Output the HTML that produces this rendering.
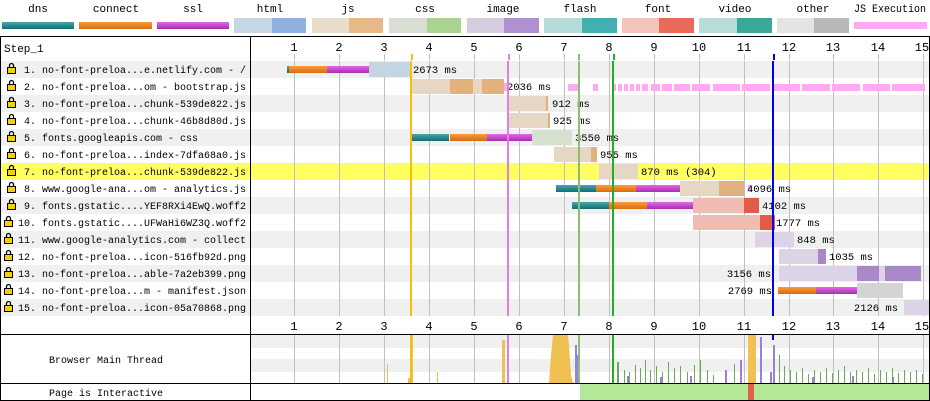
<!DOCTYPE html>
<html><head><meta charset="utf-8"><style>
body{margin:0;background:#fff}
svg{display:block;font-family:"Liberation Mono",monospace;font-size:10px}
</style></head><body>
<svg width="930" height="401" xmlns="http://www.w3.org/2000/svg">
<defs>
<linearGradient id="gdns" x1="0" y1="0" x2="0" y2="1"><stop offset="0" stop-color="#4aa5ad"/><stop offset="1" stop-color="#136c74"/></linearGradient>
<linearGradient id="gcon" x1="0" y1="0" x2="0" y2="1"><stop offset="0" stop-color="#fb9c3c"/><stop offset="1" stop-color="#d86b0f"/></linearGradient>
<linearGradient id="gssl" x1="0" y1="0" x2="0" y2="1"><stop offset="0" stop-color="#e06ae6"/><stop offset="1" stop-color="#a52fae"/></linearGradient>
</defs>
<!-- legend -->
<g text-anchor="middle" font-size="11">
<text x="38" y="12">dns</text><text x="116" y="12">connect</text><text x="193" y="12">ssl</text>
<text x="270" y="12">html</text><text x="348" y="12">js</text><text x="425" y="12">css</text>
<text x="503" y="12">image</text><text x="580" y="12">flash</text><text x="658" y="12">font</text>
<text x="735" y="12">video</text><text x="813" y="12">other</text><text x="890" y="12" textLength="72" lengthAdjust="spacingAndGlyphs">JS Execution</text>
</g>
<rect x="2" y="22" width="72" height="7" fill="url(#gdns)"/>
<rect x="79" y="22" width="73" height="7" fill="url(#gcon)"/>
<rect x="157" y="22" width="72" height="7" fill="url(#gssl)"/>
<rect x="234" y="18" width="38" height="15" fill="#c6d7e3"/><rect x="272" y="18" width="34" height="15" fill="#8fb0e0"/>
<rect x="312" y="18" width="37" height="15" fill="#eadccb"/><rect x="349" y="18" width="34" height="15" fill="#e8b888"/>
<rect x="389" y="18" width="38" height="15" fill="#d8dfd2"/><rect x="427" y="18" width="34" height="15" fill="#a8d490"/>
<rect x="467" y="18" width="37" height="15" fill="#d7cde0"/><rect x="504" y="18" width="35" height="15" fill="#b090d0"/>
<rect x="544" y="18" width="38" height="15" fill="#b6dcd9"/><rect x="582" y="18" width="35" height="15" fill="#40b0b0"/>
<rect x="622" y="18" width="37" height="15" fill="#f4c4bc"/><rect x="659" y="18" width="35" height="15" fill="#ea6a58"/>
<rect x="699" y="18" width="38" height="15" fill="#b8dcd8"/><rect x="737" y="18" width="35" height="15" fill="#3aa898"/>
<rect x="777" y="18" width="37" height="15" fill="#e4e4e4"/><rect x="814" y="18" width="35" height="15" fill="#b8b8b8"/>
<rect x="854" y="22" width="73" height="7" fill="#ffaaf5"/>

<!-- row backgrounds -->
<g fill="#f0f0f0">
<rect x="0" y="61" width="930" height="17"/><rect x="0" y="95" width="930" height="17"/>
<rect x="0" y="129" width="930" height="17"/><rect x="0" y="163" width="930" height="17"/>
<rect x="0" y="197" width="930" height="17"/><rect x="0" y="231" width="930" height="17"/>
<rect x="0" y="265" width="930" height="17"/><rect x="0" y="299" width="930" height="17"/>
<rect x="251" y="335" width="678" height="13"/><rect x="251" y="359" width="678" height="13"/>
</g>
<rect x="0" y="163" width="930" height="17" fill="#ffff60"/>

<!-- grid -->
<g stroke="#c0c0c0" stroke-width="1">
<line x1="294.5" y1="61" x2="294.5" y2="316"/><line x1="339.5" y1="61" x2="339.5" y2="316"/>
<line x1="384.5" y1="61" x2="384.5" y2="316"/><line x1="429.5" y1="61" x2="429.5" y2="316"/>
<line x1="474.5" y1="61" x2="474.5" y2="316"/><line x1="519.5" y1="61" x2="519.5" y2="316"/>
<line x1="564.5" y1="61" x2="564.5" y2="316"/><line x1="609.5" y1="61" x2="609.5" y2="316"/>
<line x1="654.5" y1="61" x2="654.5" y2="316"/><line x1="699.5" y1="61" x2="699.5" y2="316"/>
<line x1="744.5" y1="61" x2="744.5" y2="316"/><line x1="789.5" y1="61" x2="789.5" y2="316"/>
<line x1="833.5" y1="61" x2="833.5" y2="316"/><line x1="878.5" y1="61" x2="878.5" y2="316"/>
<line x1="923.5" y1="61" x2="923.5" y2="316"/>
<line x1="294.5" y1="335" x2="294.5" y2="383"/><line x1="339.5" y1="335" x2="339.5" y2="383"/><line x1="384.5" y1="335" x2="384.5" y2="383"/><line x1="429.5" y1="335" x2="429.5" y2="383"/><line x1="474.5" y1="335" x2="474.5" y2="383"/><line x1="519.5" y1="335" x2="519.5" y2="383"/><line x1="564.5" y1="335" x2="564.5" y2="383"/><line x1="609.5" y1="335" x2="609.5" y2="383"/><line x1="654.5" y1="335" x2="654.5" y2="383"/><line x1="699.5" y1="335" x2="699.5" y2="383"/><line x1="744.5" y1="335" x2="744.5" y2="383"/><line x1="789.5" y1="335" x2="789.5" y2="383"/><line x1="833.5" y1="335" x2="833.5" y2="383"/><line x1="878.5" y1="335" x2="878.5" y2="383"/><line x1="923.5" y1="335" x2="923.5" y2="383"/>
<line x1="294.5" y1="54" x2="294.5" y2="60"/><line x1="339.5" y1="54" x2="339.5" y2="60"/><line x1="384.5" y1="54" x2="384.5" y2="60"/><line x1="429.5" y1="54" x2="429.5" y2="60"/><line x1="474.5" y1="54" x2="474.5" y2="60"/><line x1="519.5" y1="54" x2="519.5" y2="60"/><line x1="564.5" y1="54" x2="564.5" y2="60"/><line x1="609.5" y1="54" x2="609.5" y2="60"/><line x1="654.5" y1="54" x2="654.5" y2="60"/><line x1="699.5" y1="54" x2="699.5" y2="60"/><line x1="744.5" y1="54" x2="744.5" y2="60"/><line x1="789.5" y1="54" x2="789.5" y2="60"/><line x1="833.5" y1="54" x2="833.5" y2="60"/><line x1="878.5" y1="54" x2="878.5" y2="60"/><line x1="923.5" y1="54" x2="923.5" y2="60"/>
</g>

<!-- axis labels -->
<g font-size="12" text-anchor="middle">
<text x="294" y="51">1</text><text x="339" y="51">2</text><text x="384" y="51">3</text><text x="429" y="51">4</text><text x="474" y="51">5</text><text x="519" y="51">6</text><text x="564" y="51">7</text><text x="609" y="51">8</text><text x="654" y="51">9</text><text x="699" y="51">10</text><text x="744" y="51">11</text><text x="789" y="51">12</text><text x="833" y="51">13</text><text x="878" y="51">14</text><text x="922" y="51">15</text>
<text x="294" y="330">1</text><text x="339" y="330">2</text><text x="384" y="330">3</text><text x="429" y="330">4</text><text x="474" y="330">5</text><text x="519" y="330">6</text><text x="564" y="330">7</text><text x="609" y="330">8</text><text x="654" y="330">9</text><text x="699" y="330">10</text><text x="744" y="330">11</text><text x="789" y="330">12</text><text x="833" y="330">13</text><text x="878" y="330">14</text><text x="922" y="330">15</text>
</g>
<text x="4" y="52" font-size="11">Step_1</text>

<!-- JS execution ticks row 2 -->
<g fill="#ffaaf5">
<rect x="568" y="84" width="11" height="7"/><rect x="593" y="84" width="5" height="7"/>
<rect x="613" y="84" width="312" height="7"/>
</g>
<g fill="#fff"><rect x="616" y="84" width="2" height="7"/><rect x="622" y="84" width="2" height="7"/><rect x="628" y="84" width="2" height="7"/><rect x="634" y="84" width="2" height="7"/><rect x="640" y="84" width="2" height="7"/><rect x="648" y="84" width="3" height="7"/><rect x="660" y="84" width="2" height="7"/><rect x="672" y="84" width="2" height="7"/><rect x="690" y="84" width="2" height="7"/><rect x="710" y="84" width="3" height="7"/><rect x="740" y="84" width="2" height="7"/><rect x="770" y="84" width="3" height="7"/><rect x="800" y="84" width="2" height="7"/><rect x="830" y="84" width="2" height="7"/><rect x="860" y="84" width="3" height="7"/><rect x="890" y="84" width="2" height="7"/></g>

<!-- bars -->
<g>
<rect x="287" y="66" width="2" height="7" fill="url(#gdns)"/>
<rect x="289" y="66" width="38" height="7" fill="url(#gcon)"/>
<rect x="327" y="66" width="43" height="7" fill="url(#gssl)"/>
<rect x="369" y="62" width="41" height="15" fill="#c3d5e0"/>
<rect x="412" y="79" width="92" height="15" fill="#e6d6c4"/>
<rect x="450" y="79" width="23" height="15" fill="#e2b27e"/><rect x="482" y="79" width="22" height="15" fill="#e2b27e"/>
<rect x="504" y="83" width="3" height="8" fill="#ffaaf5"/>
<rect x="507" y="96" width="41" height="15" fill="#e6d6c4"/><rect x="546" y="96" width="2" height="15" fill="#e2b27e"/>
<rect x="507" y="113" width="43" height="15" fill="#e6d6c4"/><rect x="548" y="113" width="2" height="15" fill="#e2b27e"/>
<rect x="410" y="134" width="39" height="7" fill="url(#gdns)"/>
<rect x="450" y="134" width="37" height="7" fill="url(#gcon)"/>
<rect x="487" y="134" width="45" height="7" fill="url(#gssl)"/>
<rect x="532" y="130" width="40" height="15" fill="#d6e2cf"/>
<rect x="554" y="147" width="43" height="15" fill="#e6d6c4"/><rect x="591" y="147" width="6" height="15" fill="#e2b27e"/>
<rect x="599" y="164" width="39" height="15" fill="#e6d6c4"/>
<rect x="556" y="185" width="40" height="7" fill="url(#gdns)"/>
<rect x="596" y="185" width="40" height="7" fill="url(#gcon)"/>
<rect x="636" y="185" width="44" height="7" fill="url(#gssl)"/>
<rect x="680" y="181" width="64" height="15" fill="#e6d6c4"/><rect x="719" y="181" width="25" height="15" fill="#e2b27e"/>
<rect x="748" y="185" width="3" height="7" fill="#ffaaf5"/>
<rect x="572" y="202" width="37" height="7" fill="url(#gdns)"/>
<rect x="609" y="202" width="38" height="7" fill="url(#gcon)"/>
<rect x="647" y="202" width="46" height="7" fill="url(#gssl)"/>
<rect x="693" y="198" width="66" height="15" fill="#efbcb4"/><rect x="744" y="198" width="15" height="15" fill="#e45a48"/>
<rect x="693" y="215" width="82" height="15" fill="#efbcb4"/><rect x="760" y="215" width="15" height="15" fill="#e45a48"/>
<rect x="755" y="232" width="39" height="15" fill="#dcd3e6"/>
<rect x="779" y="249" width="47" height="15" fill="#dcd3e6"/><rect x="818" y="249" width="8" height="15" fill="#a888c8"/>
<rect x="779" y="266" width="142" height="15" fill="#dcd3e6"/>
<rect x="857" y="266" width="22" height="15" fill="#a888c8"/><rect x="885" y="266" width="36" height="15" fill="#a888c8"/>
<rect x="778" y="287" width="38" height="7" fill="url(#gcon)"/>
<rect x="816" y="287" width="41" height="7" fill="url(#gssl)"/>
<rect x="857" y="283" width="46" height="15" fill="#d4d4d4"/>
<rect x="904" y="300" width="26" height="15" fill="#dcd3e6"/>
</g>

<!-- durations -->
<g font-size="10.5">
<text x="413" y="73">2673 ms</text>
<text x="507" y="90">2036 ms</text>
<text x="552" y="107">912 ms</text>
<text x="553" y="124">925 ms</text>
<text x="575" y="141">3550 ms</text>
<text x="600" y="158">955 ms</text>
<text x="641" y="175">870 ms (304)</text>
<text x="747" y="192">4096 ms</text>
<text x="762" y="209">4102 ms</text>
<text x="776" y="226">1777 ms</text>
<text x="797" y="243">848 ms</text>
<text x="829" y="260">1035 ms</text>
<text x="771" y="277" text-anchor="end">3156 ms</text>
<text x="772" y="294" text-anchor="end">2769 ms</text>
<text x="898" y="311" text-anchor="end">2126 ms</text>
</g>
<g font-size="10">
<text x="24" y="73">1. no-font-preloa...e.netlify.com - /</text>
<text x="24" y="90">2. no-font-preloa...om - bootstrap.js</text>
<text x="24" y="107">3. no-font-preloa...chunk-539de822.js</text>
<text x="24" y="124">4. no-font-preloa...chunk-46b8d80d.js</text>
<text x="24" y="141">5. fonts.googleapis.com - css</text>
<text x="24" y="158">6. no-font-preloa...index-7dfa68a0.js</text>
<text x="24" y="175">7. no-font-preloa...chunk-539de822.js</text>
<text x="24" y="192">8. www.google-ana...om - analytics.js</text>
<text x="24" y="209">9. fonts.gstatic....YEF8RXi4EwQ.woff2</text>
<text x="18" y="226">10. fonts.gstatic....UFWaHi6WZ3Q.woff2</text>
<text x="18" y="243">11. www.google-analytics.com - collect</text>
<text x="18" y="260">12. no-font-preloa...icon-516fb92d.png</text>
<text x="18" y="277">13. no-font-preloa...able-7a2eb399.png</text>
<text x="18" y="294">14. no-font-preloa...m - manifest.json</text>
<text x="18" y="311">15. no-font-preloa...icon-05a70868.png</text>
</g>
<!-- locks -->
<g fill="#f5d000" stroke="#000" stroke-width="1">
<rect x="7.5" y="67.5" width="8" height="6"/><rect x="7.5" y="84.5" width="8" height="6"/><rect x="7.5" y="101.5" width="8" height="6"/><rect x="7.5" y="118.5" width="8" height="6"/><rect x="7.5" y="135.5" width="8" height="6"/><rect x="7.5" y="152.5" width="8" height="6"/><rect x="7.5" y="169.5" width="8" height="6"/><rect x="7.5" y="186.5" width="8" height="6"/><rect x="7.5" y="203.5" width="8" height="6"/><rect x="4.5" y="220.5" width="8" height="6"/><rect x="4.5" y="237.5" width="8" height="6"/><rect x="4.5" y="254.5" width="8" height="6"/><rect x="4.5" y="271.5" width="8" height="6"/><rect x="4.5" y="288.5" width="8" height="6"/><rect x="4.5" y="305.5" width="8" height="6"/>
</g>
<g fill="none" stroke="#000" stroke-width="1.3">
<path d="M9.5 67.5v-2a2 2 0 0 1 4 0v2"/><path d="M9.5 84.5v-2a2 2 0 0 1 4 0v2"/><path d="M9.5 101.5v-2a2 2 0 0 1 4 0v2"/><path d="M9.5 118.5v-2a2 2 0 0 1 4 0v2"/><path d="M9.5 135.5v-2a2 2 0 0 1 4 0v2"/><path d="M9.5 152.5v-2a2 2 0 0 1 4 0v2"/><path d="M9.5 169.5v-2a2 2 0 0 1 4 0v2"/><path d="M9.5 186.5v-2a2 2 0 0 1 4 0v2"/><path d="M9.5 203.5v-2a2 2 0 0 1 4 0v2"/><path d="M6.5 220.5v-2a2 2 0 0 1 4 0v2"/><path d="M6.5 237.5v-2a2 2 0 0 1 4 0v2"/><path d="M6.5 254.5v-2a2 2 0 0 1 4 0v2"/><path d="M6.5 271.5v-2a2 2 0 0 1 4 0v2"/><path d="M6.5 288.5v-2a2 2 0 0 1 4 0v2"/><path d="M6.5 305.5v-2a2 2 0 0 1 4 0v2"/>
</g>

<!-- main thread -->
<g fill="#f0c050">
<rect x="411" y="335" width="2" height="48"/><rect x="387" y="364" width="1" height="19"/><rect x="408" y="378" width="3" height="5"/><rect x="437" y="372" width="1" height="11"/><rect x="502" y="340" width="3" height="43"/>
<path d="M549 383 L551 355 L553 335 L568 335 L569 345 L571 375 L573 383Z"/>
<rect x="748" y="335" width="8" height="48"/>
</g>
<g fill="#9b7fe0">
<rect x="411" y="360" width="1" height="23"/><rect x="575" y="345" width="2" height="38"/><rect x="577" y="355" width="2" height="28"/><rect x="740" y="360" width="2" height="23"/><rect x="760" y="337" width="2" height="46"/><rect x="773" y="345" width="2" height="38"/><rect x="725" y="370" width="2" height="13"/><rect x="617" y="375" width="2" height="8"/>
<rect x="627" y="376" width="2" height="7"/><rect x="660" y="377" width="2" height="6"/><rect x="690" y="376" width="2" height="7"/><rect x="770" y="372" width="2" height="11"/><rect x="812" y="377" width="2" height="6"/><rect x="852" y="376" width="2" height="7"/><rect x="892" y="377" width="2" height="6"/>
</g>
<g fill="#6aaa50" stroke="none">
<path d="M613 383 L613 350 L614 350 L614 383 M617 383 L617 362 L619 362 L619 383 M624 383 L624 370 L625 370 L625 383 M629 383 L629 372 L630 372 L630 383 M635 383 L635 365 L636 365 L636 383 M640 383 L640 368 L641 368 L641 383 M645 383 L645 360 L646 360 L646 383 M650 383 L650 370 L651 370 L651 383 M656 383 L656 366 L657 366 L657 383 M662 383 L662 372 L663 372 L663 383 M668 383 L668 362 L669 362 L669 383 M674 383 L674 368 L675 368 L675 383 M680 383 L680 366 L681 366 L681 383 M687 383 L687 372 L688 372 L688 383 M694 383 L694 365 L695 365 L695 383 M700 383 L700 360 L701 360 L701 383 M707 383 L707 370 L708 370 L708 383 M713 383 L713 375 L714 375 L714 383 M734 383 L734 364 L735 364 L735 383 M779 383 L779 355 L780 355 L780 383 M784 383 L784 366 L785 366 L785 383 M790 383 L790 370 L791 370 L791 383 M796 383 L796 372 L797 372 L797 383 M802 383 L802 368 L803 368 L803 383 M808 383 L808 374 L809 374 L809 383 M814 383 L814 370 L815 370 L815 383 M820 383 L820 372 L821 372 L821 383 M826 383 L826 368 L827 368 L827 383 M832 383 L832 373 L833 373 L833 383 M838 383 L838 370 L839 370 L839 383 M844 383 L844 366 L845 366 L845 383 M850 383 L850 372 L851 372 L851 383 M856 383 L856 370 L857 370 L857 383 M862 383 L862 372 L863 372 L863 383 M868 383 L868 368 L869 368 L869 383 M874 383 L874 374 L875 374 L875 383 M880 383 L880 370 L881 370 L881 383 M886 383 L886 372 L887 372 L887 383 M892 383 L892 368 L893 368 L893 383 M898 383 L898 373 L899 373 L899 383 M904 383 L904 370 L905 370 L905 383 M910 383 L910 372 L911 372 L911 383 M916 383 L916 370 L917 370 L917 383 M922 383 L922 374 L923 374 L923 383"/>
</g>

<!-- event lines -->
<rect x="410" y="61" width="2" height="255" fill="#f8c000"/>
<rect x="507" y="61" width="2" height="255" fill="#e080e0"/>
<rect x="578" y="61" width="2" height="255" fill="#88c070"/>
<rect x="612" y="61" width="2" height="255" fill="#20b020"/>
<rect x="772" y="61" width="2" height="255" fill="#0000ee"/>
<rect x="411" y="54" width="2" height="6" fill="#f8c000"/><rect x="508" y="54" width="2" height="6" fill="#e080e0"/><rect x="578" y="54" width="2" height="6" fill="#88c070"/><rect x="613" y="54" width="2" height="6" fill="#20b020"/><rect x="773" y="54" width="2" height="6" fill="#0000ee"/>
<rect x="410" y="335" width="2" height="48" fill="#f8c000"/><rect x="507" y="335" width="2" height="48" fill="#e080e0"/><rect x="578" y="335" width="2" height="48" fill="#88c070"/><rect x="612" y="335" width="2" height="48" fill="#20b020"/><rect x="772" y="335" width="2" height="5" fill="#0000ee"/>

<rect x="580" y="384" width="349" height="16" fill="#b4e898"/>
<rect x="748" y="384" width="6" height="16" fill="#e06050"/>

<text x="49" y="363" font-size="10">Browser Main Thread</text>
<text x="49" y="396" font-size="10">Page is Interactive</text>

<g stroke="#000" stroke-width="1" fill="none">
<line x1="0" y1="36.5" x2="930" y2="36.5"/>
<line x1="0.5" y1="36" x2="0.5" y2="401"/>
<line x1="929.5" y1="36" x2="929.5" y2="401"/>
<line x1="250.5" y1="36" x2="250.5" y2="401"/>
<line x1="0" y1="334.5" x2="930" y2="334.5"/>
<line x1="0" y1="383.5" x2="930" y2="383.5"/>
<line x1="0" y1="400.5" x2="930" y2="400.5"/>
</g>
</svg>
</body></html>
